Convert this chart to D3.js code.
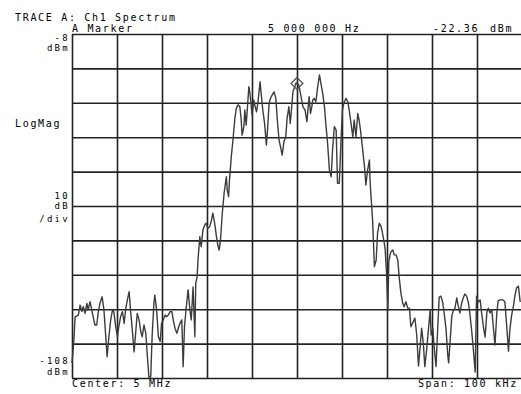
<!DOCTYPE html>
<html><head><meta charset="utf-8">
<script src="https://cdn.jsdelivr.net/npm/d3@7"></script>
<style>
body{margin:0;background:#fff}
svg{display:block}
text{font-family:"DejaVu Sans Mono",monospace;font-size:10px;letter-spacing:1.68px;fill:#000}
text.stack{font-size:9px;letter-spacing:2.28px}
</style>
</head><body>
<svg id="c" width="521" height="394"></svg>
<script>
// ---- data ----
const traceTitle = "TRACE A: Ch1 Spectrum";
const markerLabel = "A Marker";
const markerFreqText = "5 000 000 Hz";
const markerLevelText = "-22.36";
const centerText = "Center: 5 MHz";
const spanText = "Span: 100 kHz";
const spanKHz = [-50, 50];            // offset from 5 MHz centre
const levelRange = [-108, -8];        // dBm
const xDivTicks = [-50,-40,-30,-20,-10,0,10,20,30,40,50];
const yDivTicks = [-108,-98,-88,-78,-68,-58,-48,-38,-28,-18,-8];
const markerKHz = 0, markerDbm = -22.36;
// [offset kHz, level dBm]
const spectrum = [
[-50.0,-103.6],[-49.6,-97.4],[-49.3,-90.2],[-48.6,-89.7],[-48.2,-86.8],[-47.8,-88.7],[-47.5,-87.3],[-47.1,-89.2],[-46.7,-86.3],[-46.4,-88.2],[-46.0,-85.8],[-45.6,-88.2],[-45.3,-90.2],[-44.9,-92.6],[-44.5,-92.6],[-44.2,-89.2],[-43.8,-86.3],[-43.3,-84.4],[-42.9,-88.2],[-42.5,-96.0],[-42.2,-101.8],[-41.8,-96.0],[-41.4,-91.1],[-41.0,-88.2],[-40.7,-88.7],[-40.3,-93.1],[-39.9,-96.0],[-39.6,-93.1],[-39.2,-90.2],[-38.8,-88.7],[-38.4,-92.1],[-38.1,-88.2],[-37.7,-85.3],[-37.3,-82.9],[-37.0,-88.2],[-36.6,-94.0],[-36.2,-100.4],[-35.8,-94.0],[-35.5,-89.2],[-35.1,-91.1],[-34.7,-94.5],[-34.4,-96.0],[-34.0,-92.6],[-33.6,-95.0],[-33.3,-100.8],[-32.9,-108.0],[-32.5,-107.6],[-32.2,-96.0],[-31.8,-86.3],[-31.6,-83.9],[-31.2,-88.2],[-30.8,-96.0],[-30.4,-97.4],[-30.1,-92.1],[-29.7,-91.1],[-29.3,-89.7],[-29.0,-90.2],[-28.6,-89.7],[-28.2,-88.7],[-27.8,-88.7],[-27.5,-91.1],[-27.1,-93.6],[-26.7,-95.0],[-26.4,-93.6],[-26.0,-92.1],[-25.6,-91.1],[-25.3,-104.7],
[-25.0,-93.1],[-24.6,-87.3],[-24.2,-82.4],[-23.8,-88.2],[-23.5,-91.1],[-23.1,-81.5],[-22.7,-96.0],[-22.5,-80.4],[-22.2,-78.6],[-22.0,-73.7],[-21.6,-66.9],[-21.3,-69.8],[-20.9,-65.0],[-20.5,-63.5],[-20.2,-63.0],[-19.8,-64.5],[-19.4,-64.0],[-19.0,-62.1],[-18.7,-60.1],[-18.3,-63.0],[-17.9,-66.9],[-17.6,-69.3],[-17.3,-70.8],[-17.0,-67.9],[-16.6,-60.1],[-16.2,-54.3],[-15.7,-49.5],[-15.5,-53.3],[-15.2,-55.3],[-15.0,-50.4],[-14.6,-43.7],[-14.2,-38.3],[-13.8,-32.5],[-13.5,-29.6],[-13.1,-28.6],[-12.7,-29.1],[-12.4,-33.0],[-12.2,-37.4],[-11.8,-34.9],[-11.6,-30.1],[-11.3,-34.5],[-11.0,-29.1],[-10.7,-23.3],[-10.5,-24.8],[-10.3,-27.2],[-10.0,-31.5],[-9.6,-27.2],[-9.3,-29.1],[-9.0,-30.6],[-8.7,-28.1],[-8.4,-24.3],[-8.2,-21.9],[-7.9,-26.2],[-7.6,-30.1],[-7.2,-34.0],[-6.8,-40.3],[-6.6,-36.9],[-6.2,-28.1],[-5.9,-26.7],[-5.5,-25.7],[-5.1,-24.8],[-4.7,-26.7],[-4.4,-32.5],[-4.0,-38.8],[-3.6,-41.2],[-3.3,-43.2],[-2.9,-39.3],[-2.5,-37.9],[-2.2,-32.5],[-1.8,-29.1],[-1.5,-34.0],[-1.2,-29.6],[-0.9,-24.8],[-0.5,-23.3],[-0.2,-22.2],
[0.4,-22.8],[0.9,-26.2],[1.3,-29.1],[1.8,-30.1],[2.2,-33.5],[2.5,-29.1],[2.7,-26.2],[3.0,-31.1],[3.3,-29.1],[3.5,-27.2],[3.8,-26.7],[4.2,-27.7],[4.6,-23.3],[5.0,-19.9],[5.3,-22.3],[5.7,-25.2],[6.1,-29.1],[6.4,-34.0],[6.8,-39.8],[7.2,-47.5],[7.6,-49.5],[7.9,-41.7],[8.3,-34.9],[8.7,-35.9],[9.0,-51.4],[9.4,-51.4],[9.8,-38.3],[10.1,-30.1],[10.4,-28.1],[10.9,-26.7],[11.3,-27.7],[11.6,-30.1],[12.0,-34.0],[12.4,-37.9],[12.7,-33.0],[13.1,-37.9],[13.5,-31.1],[13.8,-33.0],[14.2,-36.9],[14.6,-41.7],[15.0,-46.6],[15.3,-51.9],[15.7,-47.5],[16.1,-44.6],[16.2,-49.5],[16.4,-54.3],[16.8,-62.1],[17.2,-75.6],[17.6,-73.7],[17.9,-65.9],[18.3,-63.0],[18.7,-64.0],[19.0,-65.9],[19.4,-68.8],[19.6,-70.8],[19.9,-77.6],[20.2,-88.2],[20.4,-74.3],[20.7,-72.0],[20.9,-71.3],[21.3,-70.8],[21.6,-72.2],[22.0,-72.2],[22.4,-73.7],[22.7,-78.6],[23.1,-83.4],[23.5,-86.3],[23.8,-87.3],[24.2,-85.8],[24.6,-87.7],[25.0,-87.7],[25.3,-93.1],
[25.5,-92.6],[25.8,-91.7],[26.2,-90.6],[26.6,-95.5],[27.0,-104.5],[27.3,-99.9],[27.7,-93.5],[28.1,-98.4],[28.4,-104.7],[28.8,-99.9],[29.2,-94.0],[29.6,-88.2],[29.8,-95.5],[30.2,-93.6],[30.4,-97.8],[30.9,-104.7],[31.3,-92.6],[31.6,-84.5],[32.0,-84.2],[32.4,-86.2],[32.7,-89.1],[33.1,-93.5],[33.5,-101.3],[33.7,-103.6],[34.0,-97.8],[34.4,-90.0],[34.7,-88.5],[35.1,-87.7],[35.5,-84.7],[35.8,-86.8],[36.2,-89.1],[36.6,-86.2],[37.0,-84.5],[37.3,-83.6],[37.7,-84.2],[38.1,-86.2],[38.4,-89.1],[38.8,-94.0],[39.2,-99.9],[39.6,-106.3],[39.9,-84.2],[40.3,-85.9],[40.7,-85.3],[41.0,-88.8],[41.4,-92.9],[41.8,-96.1],[42.2,-88.8],[42.5,-87.7],[42.9,-89.1],[43.3,-88.2],[43.6,-92.9],[44.0,-98.4],[44.4,-89.1],[44.7,-85.6],[45.1,-85.3],[45.5,-85.3],[45.8,-85.3],[46.2,-85.9],[46.6,-92.9],[47.0,-100.2],[47.3,-94.0],[47.7,-89.7],[48.1,-87.1],[48.4,-84.2],[48.8,-81.8],[49.2,-81.3],[49.6,-85.9]
];

// ---- drawing ----
const svg = d3.select("#c");
const L = 72, R = 522, T = 34, B = 378;
const x = d3.scaleLinear().domain(spanKHz).range([L, R]);
const y = d3.scaleLinear().domain(levelRange).range([B, T]);

const gx = svg.append("g").attr("transform", `translate(0,${B})`)
  .call(d3.axisBottom(x).tickValues(xDivTicks).tickSize(-(B - T)).tickFormat(""));
const gy = svg.append("g").attr("transform", `translate(${L},0)`)
  .call(d3.axisLeft(y).tickValues(yDivTicks).tickSize(-(R - L)).tickFormat(""));
[gx, gy].forEach(g => {
  g.select(".domain").remove();
  g.selectAll(".tick line").attr("stroke", "#222").attr("stroke-width", 1.6);
});

const line = d3.line().x(d => x(d[0])).y(d => y(d[1]));
svg.append("path").datum(spectrum)
  .attr("d", line).attr("fill", "none")
  .attr("stroke", "#3c3c3c").attr("stroke-width", 1.4).attr("stroke-linejoin", "round");

svg.append("path")
  .attr("d", d3.symbol(d3.symbolSquare, 70)())
  .attr("transform", `translate(${x(markerKHz)},${y(markerDbm)}) rotate(45)`)
  .attr("fill", "none").attr("stroke", "#555").attr("stroke-width", 1.3);

function label(t, px, py, anchor, cls) {
  svg.append("text").attr("x", px).attr("y", py)
    .attr("class", cls || null)
    .attr("text-anchor", anchor || "start").text(t);
}
label(traceTitle, 15, 21);
label(markerLabel, 72, 31.5);
label(markerFreqText, 268, 31.5);
label(markerLevelText, 433, 31.5);
label("dBm", 490, 31.5);
label(String(levelRange[1]), 70, 40.5, "end", "stack");
label("dBm", 70, 51, "end", "stack");
label("LogMag", 15, 127);
label(String(10), 70, 198.5, "end", "stack");
label("dB", 70, 209, "end", "stack");
label("/div", 70, 221.5, "end", "stack");
label(String(levelRange[0]), 70, 364, "end", "stack");
label("dBm", 70, 374.5, "end", "stack");
label(centerText, 72, 387);
label(spanText, 518, 387, "end");
</script>
</body></html>
